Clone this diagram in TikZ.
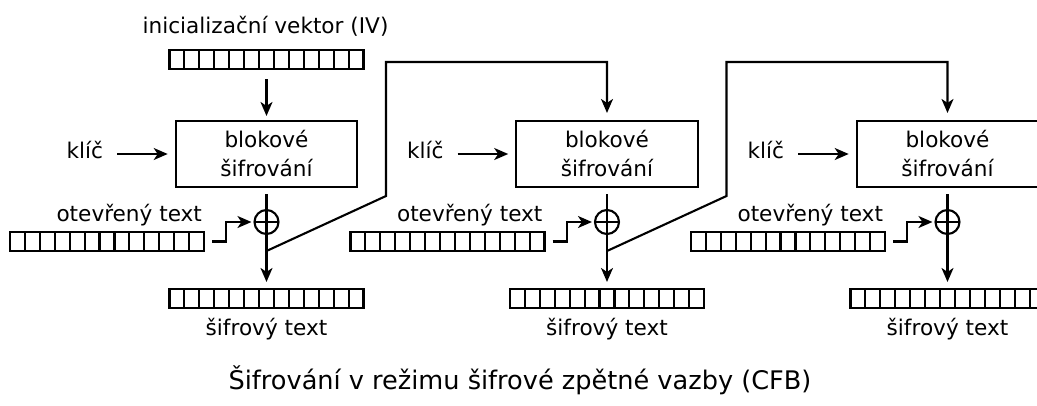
\documentclass[tikz,border=0pt]{standalone}
\usepackage{fontspec}
\setmainfont{DejaVu Sans}
\usetikzlibrary{arrows.meta,calc}
\begin{document}
\begin{tikzpicture}[x=1pt,y=-1pt,
  line width=2.1pt,
  every node/.style={inner sep=0pt},
  lbl/.style={font=\fontsize{21.6}{29}\selectfont},
  register/.style={draw, minimum width=194pt, minimum height=19pt,
    path picture={\foreach \k in {1,...,12}{
      \draw[line width=2.1pt] ([xshift={\k*14.923pt}]path picture bounding box.south west) --
            ([xshift={\k*14.923pt}]path picture bounding box.north west);}}},
  cipherbox/.style={draw, minimum width=181.5pt, minimum height=66pt,
    align=center, font=\fontsize{21.6}{29}\selectfont},
  xorop/.style={draw, circle, minimum size=24pt,
    path picture={
      \draw[line width=2.1pt] (path picture bounding box.west) -- (path picture bounding box.east);
      \draw[line width=2.1pt] (path picture bounding box.north) -- (path picture bounding box.south);}},
  arr/.style={-{Stealth[length=14pt,width=12pt,inset=4pt]}}
]
\useasboundingbox (0,0) rectangle (1037,405);
\clip (0,0) rectangle (1037,405);

% initialization vector
\node[lbl, anchor=base] (ivlabel) at (265.5,33) {inicializační vektor (IV)};
\node[register] (iv) at (266.5,59.5) {};

% three encryption stages
\foreach \b in {0,1,2}{
  \begin{scope}[xshift=\b*340.5pt]
    \node[cipherbox] (box\b) at (266.5,154) {blokové\\šifrování};
    \node[lbl, anchor=east] (key\b) at (104,150.5) {klíč};
    \node[xorop] (xor\b) at (266.5,222) {};
    \node[register] (pt\b) at (107,241.5) {};
    \node[lbl, anchor=base east] (ptl\b) at (203,221) {otevřený text};
    \node[register] (ct\b) at (266.5,298.5) {};
    \node[lbl, anchor=base] (ctl\b) at (266.5,335) {šifrový text};
    \coordinate (tap\b) at (266.5,251);
    \coordinate (bend\b) at (386,196);

    \draw[arr, shorten <=13pt, shorten >=7pt] (key\b.east |- box\b.west) -- (box\b.west);
    \draw[arr, shorten <=6pt, shorten >=6pt] (box\b.south) -- (ct\b.north);
    \draw[arr, shorten >=2pt] ([xshift=7pt]pt\b.east) -- ++(14,0) |- (xor\b.west);
  \end{scope}
}

% IV into the first stage
\draw[arr, shorten <=9pt, shorten >=4pt] (iv.south) -- (box0.north);

% ciphertext fed back into the next stage
\draw[arr, shorten >=7pt] (tap0) -- (bend0) |- ($(box1.north)+(0,-58)$) -- (box1.north);
\draw[arr, shorten >=7pt] (tap1) -- (bend1) |- ($(box2.north)+(0,-58)$) -- (box2.north);

% caption
\node[anchor=base, font=\fontsize{25.6}{30}\selectfont] (title) at (520,389)
  {Šifrování v režimu šifrové zpětné vazby (CFB)};
\end{tikzpicture}
\end{document}
